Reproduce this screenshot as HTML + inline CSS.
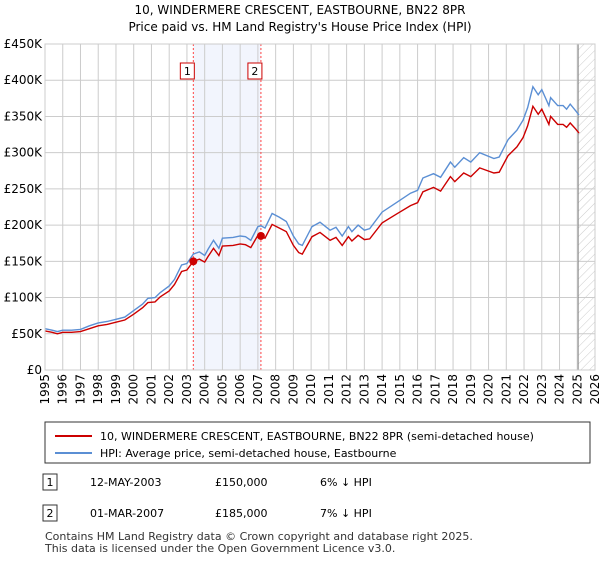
<!DOCTYPE html>
<html><head><meta charset="utf-8"><style>
body{margin:0;background:#fff;font-family:"Liberation Sans",sans-serif;}
svg text{font-family:"DejaVu Sans","Liberation Sans",sans-serif;}
</style></head><body>
<svg id="c" width="600" height="560" xmlns="http://www.w3.org/2000/svg">
<defs><pattern id="hatch" width="6" height="6" patternUnits="userSpaceOnUse" patternTransform="rotate(45)"><line x1="0" y1="0" x2="0" y2="6" stroke="#ccc" stroke-width="1"/></pattern></defs>
<text x="300" y="14" text-anchor="middle" font-size="12">10, WINDERMERE CRESCENT, EASTBOURNE, BN22 8PR</text>
<text x="300" y="31" text-anchor="middle" font-size="12">Price paid vs. HM Land Registry's House Price Index (HPI)</text>
<g id="plot"></g>
<rect x="45" y="422" width="545" height="41" fill="#fff" stroke="#333"/>
<line x1="55" y1="436" x2="92" y2="436" stroke="#cc0000" stroke-width="2"/>
<text x="100" y="440" font-size="11">10, WINDERMERE CRESCENT, EASTBOURNE, BN22 8PR (semi-detached house)</text>
<line x1="55" y1="453" x2="92" y2="453" stroke="#5b8fd4" stroke-width="2"/>
<text x="100" y="457" font-size="11">HPI: Average price, semi-detached house, Eastbourne</text>
<rect x="43" y="474" width="14" height="16" fill="#fff" stroke="#333"/>
<text x="50" y="486" font-size="11" text-anchor="middle">1</text>
<text x="90" y="486" font-size="11">12-MAY-2003</text>
<text x="215" y="486" font-size="11">£150,000</text>
<text x="320" y="486" font-size="11">6% ↓ HPI</text>
<rect x="43" y="505" width="14" height="16" fill="#fff" stroke="#333"/>
<text x="50" y="517" font-size="11" text-anchor="middle">2</text>
<text x="90" y="517" font-size="11">01-MAR-2007</text>
<text x="215" y="517" font-size="11">£185,000</text>
<text x="320" y="517" font-size="11">7% ↓ HPI</text>
<text x="45" y="540" font-size="11" fill="#333">Contains HM Land Registry data © Crown copyright and database right 2025.</text>
<text x="45" y="552" font-size="11" fill="#333">This data is licensed under the Open Government Licence v3.0.</text>
</svg>
<script>
const hpiYears=[1995.0,1995.4,1995.7,1996.0,1996.5,1997.0,1997.5,1998.0,1998.5,1999.0,1999.5,2000.0,2000.5,2000.8,2001.2,2001.5,2002.0,2002.3,2002.7,2003.0,2003.36,2003.7,2004.0,2004.2,2004.5,2004.8,2005.0,2005.6,2006.0,2006.3,2006.6,2007.0,2007.17,2007.4,2007.8,2008.2,2008.6,2009.0,2009.3,2009.5,2010.05,2010.5,2011.07,2011.4,2011.75,2012.1,2012.3,2012.65,2013.0,2013.3,2014.0,2014.8,2015.6,2016.0,2016.3,2016.9,2017.3,2017.85,2018.1,2018.6,2019.0,2019.5,2020.3,2020.6,2021.1,2021.6,2021.95,2022.2,2022.5,2022.8,2023.0,2023.4,2023.5,2023.9,2024.2,2024.4,2024.6,2024.9,2025.1];
const hpiValues=[57,55,53,55,55,56,61,65,67,70,73,82,91,99,100,107,116,125,145,147,160,163,158,167,179,168,182,183,185,184,179,198,199,196,216,211,205,185,174,172,198,204,193,197,185,198,191,200,193,195,218,231,244,248,265,271,266,287,280,293,287,300,292,294,318,331,345,362,391,380,387,365,376,365,365,360,367,358,352];
const propValues=[54,52,50,52,52,53,57,61,63,66,69,77,86,93,94,101,109,118,136,138,150,153,149,157,168,158,171,172,174,173,169,186,185,182,201,196,191,172,162,160,184,190,179,183,172,184,178,186,180,181,203,215,227,231,246,252,247,267,260,272,267,279,272,273,296,308,321,337,364,353,360,339,350,339,339,335,341,333,327];
const saleYears=[2003.36,2007.17];
const salePrices=[150,185];
const saleLabels=["1","2"];
const yTicks=[0,50,100,150,200,250,300,350,400,450];
const yTickLabels=["£0","£50K","£100K","£150K","£200K","£250K","£300K","£350K","£400K","£450K"];
const xTicks=[1995,1996,1997,1998,1999,2000,2001,2002,2003,2004,2005,2006,2007,2008,2009,2010,2011,2012,2013,2014,2015,2016,2017,2018,2019,2020,2021,2022,2023,2024,2025,2026];
const dataEnd=2025.05;

const X0=45,X1=595,Y0=370,Y1=44;
const xs=y=>X0+(y-1995)/(2026-1995)*(X1-X0);
const ys=v=>Y0-v/450*(Y0-Y1);
const NS="http://www.w3.org/2000/svg";
const g=document.getElementById('plot');
function mk(t,a){const e=document.createElementNS(NS,t);for(const k in a)e.setAttribute(k,a[k]);g.appendChild(e);return e;}
let e;
e=mk('rect',{x:xs(saleYears[0]),y:Y1,width:xs(saleYears[1])-xs(saleYears[0]),height:Y0-Y1,fill:'#f2f5fd'});


e=mk('rect',{x:xs(dataEnd),y:Y1,width:X1-xs(dataEnd),height:Y0-Y1,fill:'url(#hatch)'});


yTicks.forEach((v,i)=>{
 e=mk('line',{x1:X0,x2:X1,y1:ys(v),y2:ys(v),stroke:'#ccc'});
 
 
 e=mk('text',{x:X0-3,y:ys(v)+4,'text-anchor':'end','font-size':'12'});e.textContent=yTickLabels[i];
 
 
});
xTicks.forEach(y=>{
 e=mk('line',{x1:xs(y),x2:xs(y),y1:Y1,y2:Y0,stroke:'#ccc'});
 
 
 const tx=xs(y)+4,ty=Y0+4;
 e=mk('text',{x:tx,y:ty,'text-anchor':'end','font-size':'12',transform:`rotate(-90 ${tx} ${ty})`});e.textContent=y;
 
 
});
e=mk('line',{x1:xs(dataEnd),x2:xs(dataEnd),y1:Y1,y2:Y0,stroke:'#888'});


saleYears.forEach((y,i)=>{
 e=mk('line',{x1:xs(y),x2:xs(y),y1:Y1,y2:Y0,stroke:'#f44','stroke-dasharray':'2,2'});
 
 
 e=mk('rect',{x:xs(y)-13,y:63,width:14,height:16,fill:'#fff',stroke:'#c00'});
 
 
 e=mk('text',{x:xs(y)-6,y:75,'text-anchor':'middle','font-size':'11'});e.textContent=saleLabels[i];
 
 
});
function line(vals,col,name){
 const d=hpiYears.map((y,i)=>(i?'L':'M')+xs(y).toFixed(1)+','+ys(vals[i]).toFixed(1)).join('');
 e=mk('path',{d:d,fill:'none',stroke:col,'stroke-width':'1.4'});
 
 
}
line(hpiValues,'#5b8fd4','hpi-line');
line(propValues,'#cc0000','property-line');
saleYears.forEach((y,i)=>{
 e=mk('circle',{cx:xs(y),cy:ys(salePrices[i]),r:4,fill:'#cc0000'});
 
 
});
e=mk('rect',{x:X0,y:Y1,width:X1-X0,height:Y0-Y1,fill:'none',stroke:'#ccc'});


</script>
</body></html>
